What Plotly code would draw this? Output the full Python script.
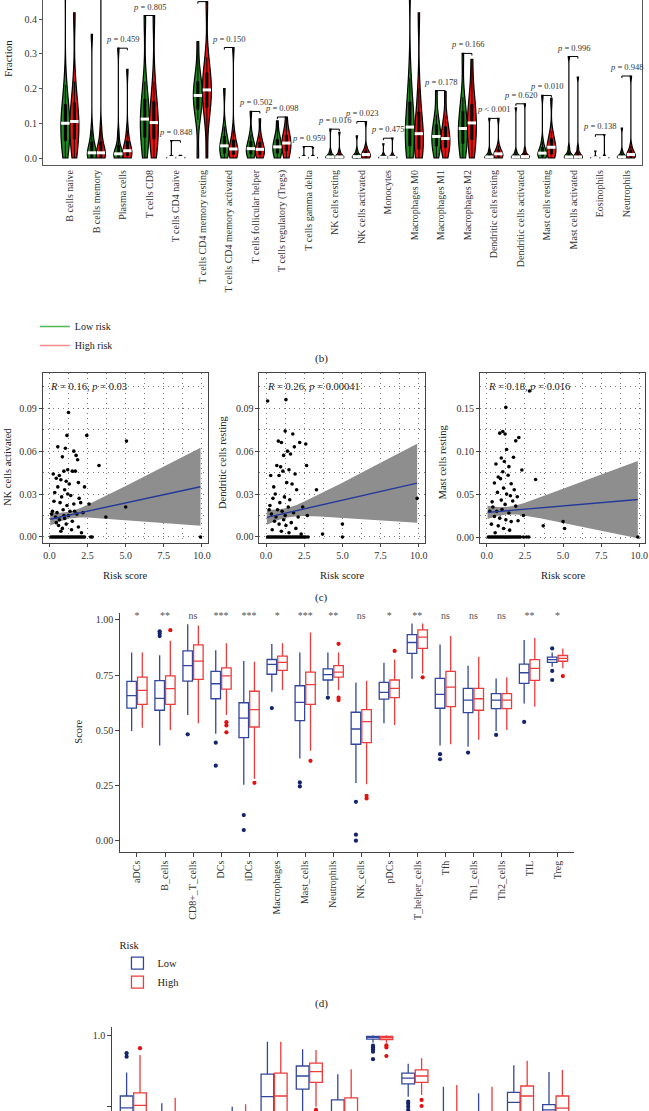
import numpy as np
import plotly.graph_objects as go

# page size in px, layout is done in pixels and converted to paper coords
W, H = 649, 1111
FONT = "Liberation Serif, Times New Roman, serif"

# ---------------- (b) violin data : CIBERSORT fractions ----------------
cell_types = ["B cells naive", "B cells memory", "Plasma cells", "T cells CD8", "T cells CD4 naive",
              "T cells CD4 memory resting", "T cells CD4 memory activated", "T cells follicular helper",
              "T cells regulatory (Tregs)", "T cells gamma delta", "NK cells resting", "NK cells activated",
              "Monocytes", "Macrophages M0", "Macrophages M1", "Macrophages M2", "Dendritic cells resting",
              "Dendritic cells activated", "Mast cells resting", "Mast cells activated", "Eosinophils",
              "Neutrophils"]

# estimated distribution (min, deciles, max) for each violin
low_frac = [
    [0.0, 0.025, 0.045, 0.065, 0.085, 0.10, 0.115, 0.135, 0.16, 0.21, 0.55],
    [0.0, 0.0, 0.0, 0.005, 0.01, 0.015, 0.025, 0.035, 0.05, 0.08, 0.356],
    [0.0, 0.0, 0.002, 0.005, 0.008, 0.012, 0.018, 0.026, 0.04, 0.07, 0.316],
    [0.0, 0.03, 0.055, 0.075, 0.095, 0.112, 0.13, 0.15, 0.175, 0.22, 0.41],
    [0.0, 0.0, 0.0, 0.0005, 0.001, 0.0015, 0.002, 0.003, 0.004, 0.006, 0.05],
    [0.0, 0.11, 0.135, 0.155, 0.168, 0.18, 0.192, 0.205, 0.225, 0.255, 0.335],
    [0.0, 0.005, 0.012, 0.02, 0.028, 0.035, 0.043, 0.052, 0.065, 0.09, 0.2],
    [0.0, 0.004, 0.01, 0.016, 0.022, 0.027, 0.033, 0.04, 0.05, 0.068, 0.134],
    [0.0, 0.005, 0.012, 0.02, 0.027, 0.032, 0.038, 0.046, 0.056, 0.07, 0.107],
    [0.0, 0.0, 0.0, 0.0005, 0.001, 0.0015, 0.002, 0.003, 0.004, 0.006, 0.033],
    [0.0, 0.0, 0.0, 0.001, 0.002, 0.003, 0.005, 0.008, 0.012, 0.02, 0.083],
    [0.0, 0.0, 0.0, 0.001, 0.002, 0.004, 0.006, 0.009, 0.013, 0.022, 0.064],
    [0.0, 0.0, 0.0, 0.0005, 0.001, 0.002, 0.003, 0.005, 0.007, 0.012, 0.041],
    [0.0, 0.01, 0.03, 0.05, 0.07, 0.089, 0.11, 0.135, 0.17, 0.23, 0.52],
    [0.0, 0.018, 0.032, 0.043, 0.053, 0.062, 0.072, 0.084, 0.1, 0.125, 0.194],
    [0.0, 0.02, 0.038, 0.055, 0.07, 0.085, 0.1, 0.118, 0.14, 0.175, 0.301],
    [0.0, 0.0, 0.0, 0.001, 0.002, 0.003, 0.005, 0.008, 0.013, 0.022, 0.114],
    [0.0, 0.0, 0.0, 0.001, 0.002, 0.003, 0.005, 0.008, 0.012, 0.02, 0.144],
    [0.0, 0.001, 0.004, 0.008, 0.011, 0.014, 0.018, 0.024, 0.032, 0.048, 0.18],
    [0.0, 0.0, 0.0, 0.001, 0.002, 0.003, 0.006, 0.01, 0.016, 0.03, 0.292],
    [0.0, 0.0, 0.0, 0.0002, 0.0005, 0.001, 0.0015, 0.002, 0.003, 0.005, 0.02],
    [0.0, 0.0, 0.0, 0.001, 0.002, 0.003, 0.005, 0.008, 0.012, 0.02, 0.086],
]
high_frac = [
    [0.0, 0.03, 0.05, 0.07, 0.09, 0.105, 0.12, 0.14, 0.165, 0.22, 0.418],
    [0.0, 0.0, 0.0, 0.005, 0.01, 0.015, 0.025, 0.035, 0.05, 0.085, 0.6],
    [0.0, 0.002, 0.006, 0.011, 0.016, 0.021, 0.028, 0.038, 0.052, 0.08, 0.255],
    [0.0, 0.025, 0.05, 0.07, 0.088, 0.102, 0.12, 0.14, 0.17, 0.22, 0.41],
    [0.0, 0.0, 0.0, 0.0005, 0.001, 0.0015, 0.002, 0.003, 0.004, 0.005, 0.008],
    [0.0, 0.11, 0.14, 0.165, 0.18, 0.196, 0.21, 0.23, 0.25, 0.29, 0.45],
    [0.0, 0.004, 0.009, 0.015, 0.02, 0.026, 0.033, 0.042, 0.055, 0.08, 0.318],
    [0.0, 0.004, 0.009, 0.015, 0.02, 0.025, 0.031, 0.038, 0.048, 0.065, 0.113],
    [0.0, 0.008, 0.018, 0.028, 0.036, 0.043, 0.05, 0.058, 0.068, 0.082, 0.118],
    [0.0, 0.0, 0.0, 0.0005, 0.001, 0.0015, 0.002, 0.003, 0.004, 0.006, 0.03],
    [0.0, 0.0, 0.0, 0.001, 0.002, 0.003, 0.005, 0.008, 0.012, 0.02, 0.074],
    [0.0, 0.001, 0.003, 0.005, 0.008, 0.01, 0.013, 0.017, 0.022, 0.032, 0.105],
    [0.0, 0.0, 0.0, 0.0005, 0.001, 0.002, 0.003, 0.005, 0.007, 0.012, 0.057],
    [0.0, 0.008, 0.022, 0.038, 0.055, 0.07, 0.088, 0.11, 0.14, 0.2, 0.418],
    [0.0, 0.015, 0.028, 0.038, 0.047, 0.056, 0.066, 0.078, 0.094, 0.12, 0.191],
    [0.0, 0.025, 0.048, 0.068, 0.085, 0.101, 0.118, 0.137, 0.16, 0.195, 0.284],
    [0.0, 0.001, 0.003, 0.006, 0.009, 0.012, 0.015, 0.019, 0.025, 0.036, 0.114],
    [0.0, 0.0, 0.001, 0.002, 0.003, 0.004, 0.006, 0.009, 0.014, 0.024, 0.156],
    [0.0, 0.004, 0.01, 0.017, 0.024, 0.031, 0.038, 0.047, 0.058, 0.076, 0.172],
    [0.0, 0.0, 0.0, 0.001, 0.002, 0.003, 0.006, 0.01, 0.016, 0.03, 0.233],
    [0.0, 0.0, 0.0, 0.0005, 0.001, 0.0015, 0.002, 0.003, 0.004, 0.008, 0.067],
    [0.0, 0.001, 0.002, 0.004, 0.007, 0.01, 0.013, 0.017, 0.023, 0.035, 0.236],
]
p_values = ["", "", "0.459", "0.805", "0.848", "", "0.150", "0.502", "0.098", "0.959", "0.016",
            "0.023", "0.475", "", "0.178", "0.166", "< 0.001", "0.620", "0.010", "0.996", "0.138", "0.948"]

# ---------------- (c) correlation scatter data ----------------
nk_x = [1.25, 1.15, 2.45, 5.05, 0.55, 1.05, 1.6, 1.75, 0.85, 1.85, 3.25, 0.25, 0.65, 1.2, 0.95, 1.5, 1.7,
        0.75, 0.45, 1.1, 1.3, 2.3, 1.9, 0.55, 1.0, 1.2, 0.35, 0.8, 1.4, 1.95, 2.05, 0.3, 0.7, 1.15, 1.6,
        2.6, 0.2, 0.5, 0.9, 1.35, 1.8, 2.2, 0.4, 0.65, 1.0, 1.25, 1.5, 0.15, 3.7, 5.0, 0.6, 0.85, 1.1,
        1.45, 1.9, 2.1, 0.75, 0.45, 1.65, 0.95,
        0.1, 0.2, 0.3, 0.4, 0.5, 0.6, 0.7, 0.8, 0.9, 1.0, 1.1, 1.2, 1.3, 1.4, 1.5, 1.6, 1.7, 1.8, 1.9,
        2.0, 2.1, 2.2, 2.3, 2.7, 2.8, 9.9]
nk_y = [0.087, 0.071, 0.071, 0.067, 0.063, 0.062, 0.060, 0.057, 0.056, 0.054, 0.050, 0.044, 0.043, 0.047,
        0.046, 0.046, 0.046, 0.040, 0.041, 0.039, 0.037, 0.035, 0.038, 0.035, 0.033, 0.030, 0.031, 0.028,
        0.029, 0.027, 0.024, 0.025, 0.024, 0.022, 0.023, 0.023, 0.018, 0.017, 0.019, 0.018, 0.016, 0.017,
        0.014, 0.012, 0.013, 0.015, 0.011, 0.016, 0.014, 0.021, 0.008, 0.006, 0.009, 0.005, 0.007, 0.003,
        0.004, 0.010, 0.018, 0.015,
        0.0, 0.0, 0.0, 0.0, 0.0, 0.0, 0.0, 0.0, 0.0, 0.0, 0.0, 0.0, 0.0, 0.0, 0.0, 0.0, 0.0, 0.0, 0.0,
        0.0, 0.0, 0.0, 0.0, 0.0, 0.0, 0.0]

dc_x = [0.1, 1.3, 1.25, 1.75, 0.8, 1.0, 2.2, 2.6, 1.85, 1.4, 1.6, 1.15, 0.7, 0.95, 2.65, 1.5, 1.1, 0.3,
        0.85, 1.9, 1.7, 1.35, 0.5, 2.0, 3.3, 0.6, 1.2, 0.45, 2.4, 0.25, 1.55, 0.9, 1.45, 0.75, 1.05, 1.8,
        0.35, 0.65, 1.25, 2.1, 0.55, 0.85, 1.3, 1.65, 1.95, 0.4, 1.0, 1.5, 2.3, 3.7, 5.0, 9.9, 0.2, 1.15,
        2.7,
        0.1, 0.2, 0.3, 0.4, 0.5, 0.6, 0.7, 0.8, 0.9, 1.0, 1.1, 1.2, 1.3, 1.4, 1.5, 1.6, 1.7, 1.8, 1.9,
        2.0, 2.1, 2.2, 2.3, 2.4, 2.5, 2.6, 2.75, 5.0]
dc_y = [0.095, 0.096, 0.074, 0.072, 0.067, 0.066, 0.066, 0.065, 0.063, 0.060, 0.058, 0.057, 0.050, 0.049,
        0.050, 0.047, 0.046, 0.043, 0.043, 0.044, 0.037, 0.038, 0.035, 0.033, 0.033, 0.030, 0.028, 0.027,
        0.021, 0.022, 0.026, 0.024, 0.021, 0.019, 0.018, 0.017, 0.016, 0.014, 0.015, 0.014, 0.011, 0.009,
        0.008, 0.010, 0.006, 0.005, 0.004, 0.003, 0.002, 0.002, 0.009, 0.027, 0.019, 0.012, 0.015,
        0.0, 0.0, 0.0, 0.0, 0.0, 0.0, 0.0, 0.0, 0.0, 0.0, 0.0, 0.0, 0.0, 0.0, 0.0, 0.0, 0.0, 0.0, 0.0,
        0.0, 0.0, 0.0, 0.0, 0.0, 0.0, 0.0, 0.0, 0.0]

mast_x = [2.8, 1.25, 0.85, 1.05, 1.2, 2.1, 1.9, 1.3, 1.75, 0.95, 1.15, 0.6, 1.45, 2.3, 1.05, 0.75, 0.9,
          1.4, 3.2, 0.5, 1.6, 1.1, 1.8, 0.7, 1.3, 1.55, 2.0, 0.35, 0.95, 1.7, 0.4, 1.2, 1.9, 0.2, 0.65,
          1.0, 1.45, 2.4, 0.5, 0.85, 1.25, 1.6, 2.05, 0.3, 0.75, 1.1, 1.5, 0.55, 3.7, 5.0, 5.1,
          0.1, 0.2, 0.3, 0.4, 0.5, 0.6, 0.7, 0.8, 0.9, 1.0, 1.1, 1.2, 1.3, 1.4, 1.5, 1.6, 1.7, 1.8, 1.9,
          2.0, 2.1, 2.2, 2.4, 2.6, 2.75, 9.9]
mast_y = [0.170, 0.151, 0.121, 0.123, 0.120, 0.116, 0.112, 0.102, 0.093, 0.092, 0.088, 0.085, 0.082,
          0.078, 0.076, 0.070, 0.068, 0.072, 0.067, 0.063, 0.062, 0.057, 0.055, 0.052, 0.050, 0.048,
          0.047, 0.041, 0.043, 0.042, 0.035, 0.038, 0.036, 0.030, 0.030, 0.032, 0.028, 0.025, 0.024,
          0.022, 0.020, 0.018, 0.019, 0.015, 0.013, 0.010, 0.008, 0.005, 0.013, 0.018, 0.010,
          0.0, 0.0, 0.0, 0.0, 0.0, 0.0, 0.0, 0.0, 0.0, 0.0, 0.0, 0.0, 0.0, 0.0, 0.0, 0.0, 0.0, 0.0, 0.0,
          0.0, 0.0, 0.0, 0.0, 0.0, 0.0, 0.0]

# linear fit and 95% band read at a few risk scores
band_x = [0.05, 0.7, 1.3, 2.0, 2.5, 3.5, 5.0, 7.5, 9.9]
nk_fit = [0.0124, 0.0139, 0.0153, 0.0169, 0.0181, 0.0204, 0.0238, 0.0296, 0.0351]
nk_lo = [0.0080, 0.0109, 0.0130, 0.0137, 0.0137, 0.0131, 0.0119, 0.0099, 0.0079]
nk_hi = [0.0172, 0.0169, 0.0176, 0.0201, 0.0225, 0.0277, 0.0357, 0.0493, 0.0623]
dc_fit = [0.0137, 0.0153, 0.0167, 0.0184, 0.0197, 0.0221, 0.0257, 0.0318, 0.0376]
dc_lo = [0.0085, 0.0115, 0.0134, 0.0144, 0.0146, 0.0143, 0.0135, 0.0118, 0.0100]
dc_hi = [0.0189, 0.0192, 0.0201, 0.0224, 0.0248, 0.0299, 0.0379, 0.0518, 0.0652]
mast_fit = [0.0287, 0.0297, 0.0306, 0.0317, 0.0324, 0.0340, 0.0363, 0.0401, 0.0437]
mast_lo = [0.0209, 0.0244, 0.0263, 0.0261, 0.0248, 0.0218, 0.0165, 0.0075, -0.0013]
mast_hi = [0.0365, 0.0350, 0.0349, 0.0373, 0.0400, 0.0462, 0.0561, 0.0727, 0.0887]
cor_text = ["<i>R</i> = 0.16, <i>p</i> = 0.03", "<i>R</i> = 0.26, <i>p</i> = 0.00041",
            "<i>R</i> = 0.18, <i>p</i> = 0.016"]

# ---------------- (d) ssGSEA immune cell boxplots ----------------
imm_cells = ["aDCs", "B_cells", "CD8+_T_cells", "DCs", "iDCs", "Macrophages", "Mast_cells", "Neutrophils",
             "NK_cells", "pDCs", "T_helper_cells", "Tfh", "Th1_cells", "Th2_cells", "TIL", "Treg"]
imm_sig = ["*", "**", "ns", "***", "***", "*", "***", "**", "ns", "*", "**", "ns", "ns", "ns", "**", "*"]
imm_low_lf = [0.497, 0.431, 0.570, 0.485, 0.253, 0.675, 0.372, 0.660, 0.261, 0.532, 0.734, 0.431, 0.426, 0.497, 0.621, 0.788]
imm_low_q1 = [0.601, 0.591, 0.723, 0.643, 0.467, 0.754, 0.544, 0.728, 0.437, 0.641, 0.849, 0.600, 0.580, 0.598, 0.713, 0.808]
imm_low_md = [0.657, 0.645, 0.793, 0.711, 0.555, 0.799, 0.627, 0.752, 0.506, 0.672, 0.898, 0.663, 0.637, 0.637, 0.761, 0.820]
imm_low_q3 = [0.722, 0.725, 0.860, 0.767, 0.625, 0.821, 0.702, 0.778, 0.582, 0.717, 0.934, 0.735, 0.690, 0.666, 0.800, 0.832]
imm_low_uf = [0.853, 0.840, 0.981, 0.863, 0.814, 0.891, 0.853, 0.853, 0.717, 0.806, 0.984, 0.889, 0.793, 0.735, 0.909, 0.853]
imm_high_lf = [0.512, 0.502, 0.532, 0.570, 0.280, 0.683, 0.408, 0.683, 0.256, 0.524, 0.758, 0.437, 0.457, 0.502, 0.607, 0.781]
imm_high_q1 = [0.618, 0.618, 0.731, 0.687, 0.515, 0.772, 0.618, 0.741, 0.444, 0.648, 0.871, 0.607, 0.591, 0.598, 0.726, 0.813]
imm_high_md = [0.681, 0.689, 0.814, 0.747, 0.594, 0.808, 0.707, 0.764, 0.539, 0.690, 0.922, 0.696, 0.643, 0.637, 0.781, 0.826]
imm_high_q3 = [0.741, 0.747, 0.887, 0.783, 0.677, 0.836, 0.764, 0.793, 0.594, 0.728, 0.955, 0.767, 0.690, 0.666, 0.820, 0.839]
imm_high_uf = [0.853, 0.906, 0.975, 0.894, 0.811, 0.894, 0.943, 0.853, 0.725, 0.821, 0.984, 0.927, 0.833, 0.741, 0.918, 0.871]
imm_low_out_idx = [1, 1, 1, 2, 3, 3, 4, 4, 5, 6, 6, 7, 8, 8, 8, 11, 11, 12, 13, 14, 15, 15, 15]
imm_low_out_val = [0.949, 0.939, 0.927, 0.482, 0.444, 0.340, 0.116, 0.048, 0.601, 0.264, 0.246, 0.648,
                   0.176, 0.027, 0.0, 0.392, 0.369, 0.399, 0.479, 0.538, 0.871, 0.769, 0.728]
imm_high_out_idx = [1, 3, 3, 3, 4, 6, 7, 7, 7, 8, 8, 9, 10, 15]
imm_high_out_val = [0.954, 0.537, 0.522, 0.491, 0.262, 0.362, 0.892, 0.648, 0.637, 0.203, 0.191, 0.860, 0.740, 0.746]

# ---------------- (e) immune function boxplots (top part only) ----------------
func_names = ["APC_co_inhibition", "APC_co_stimulation", "CCR", "Check-point", "Cytolytic_activity", "HLA",
              "Inflammation-promoting", "MHC_class_I", "Parainflammation", "T_cell_co-inhibition",
              "T_cell_co-stimulation", "Type_I_IFN_Reponse", "Type_II_IFN_Reponse"]
func_sig = ["ns", "*", "***", "ns", "ns", "**", "ns", "ns", "**", "ns", "*", "**", "***"]
func_low_uf = [0.896, 0.810, 0.760, 0.800, 0.982, 0.961, 0.891, 1.000, 0.920, 0.856, 0.838, 0.916, 0.897]
func_low_q3 = [0.830, 0.700, 0.640, 0.690, 0.891, 0.914, 0.819, 0.997, 0.894, 0.720, 0.700, 0.840, 0.806]
func_low_md = [0.797, 0.640, 0.570, 0.620, 0.828, 0.886, 0.760, 0.994, 0.880, 0.650, 0.630, 0.812, 0.791]
func_low_q1 = [0.740, 0.580, 0.500, 0.550, 0.750, 0.849, 0.700, 0.989, 0.864, 0.580, 0.560, 0.760, 0.740]
func_low_lf = [0.600, 0.440, 0.330, 0.380, 0.550, 0.760, 0.540, 0.980, 0.828, 0.420, 0.400, 0.620, 0.600]
func_high_uf = [0.945, 0.825, 0.770, 0.807, 0.982, 0.959, 0.905, 1.000, 0.936, 0.861, 0.856, 0.929, 0.903]
func_high_q3 = [0.839, 0.720, 0.660, 0.700, 0.894, 0.922, 0.825, 0.997, 0.903, 0.730, 0.720, 0.858, 0.830]
func_high_md = [0.804, 0.660, 0.590, 0.630, 0.830, 0.898, 0.770, 0.993, 0.886, 0.660, 0.650, 0.830, 0.796]
func_high_q1 = [0.750, 0.600, 0.520, 0.560, 0.760, 0.868, 0.710, 0.988, 0.868, 0.590, 0.580, 0.780, 0.760]
func_high_lf = [0.610, 0.460, 0.350, 0.390, 0.560, 0.800, 0.550, 0.979, 0.833, 0.430, 0.420, 0.640, 0.620]
func_low_out_idx = [0, 0, 7, 7, 7, 7, 7, 8, 8, 8, 8]
func_low_out_val = [0.950, 0.940, 0.971, 0.966, 0.961, 0.954, 0.933, 0.814, 0.808, 0.800, 0.791]
func_high_out_idx = [0, 5, 7, 7, 7, 8, 8]
func_high_out_val = [0.964, 0.791, 0.972, 0.966, 0.942, 0.819, 0.802]

GREEN, RED = "#1f8b1f", "#ee1111"
BLUE_BOX, RED_BOX = "#33479a", "#ee3b3b"
BLUE_PT, RED_PT = "#14246a", "#e41010"


def dx(a, b):
    return [a / W, b / W]


def dy(top, bottom):
    return [1 - bottom / H, 1 - top / H]


fig = go.Figure()

# ---- violins
off = 0.17
for i in range(len(cell_types)):
    for vals, col, sh in [(low_frac[i], GREEN, -off), (high_frac[i], RED, off)]:
        fig.add_trace(go.Violin(
            x0=i + sh, y=vals, width=0.34, scalemode="width", spanmode="hard", points=False,
            fillcolor=col, line=dict(color="black", width=1.2), opacity=1,
            box=dict(visible=True, width=0.22, fillcolor="black", line=dict(color="black", width=1)),
            meanline=dict(visible=False), showlegend=False, hoverinfo="skip", xaxis="x", yaxis="y"))

idx = np.arange(len(cell_types))
fig.add_trace(go.Scatter(x=idx - off, y=[np.median(v) for v in low_frac], mode="markers",
                         marker=dict(symbol="line-ew", size=6, line=dict(color="white", width=3)),
                         showlegend=False, hoverinfo="skip", xaxis="x", yaxis="y"))
fig.add_trace(go.Scatter(x=idx + off, y=[np.median(v) for v in high_frac], mode="markers",
                         marker=dict(symbol="line-ew", size=6, line=dict(color="white", width=3)),
                         showlegend=False, hoverinfo="skip", xaxis="x", yaxis="y"))

# brackets above each pair + p labels
bx, by = [], []
tops = [max(max(a), max(b)) for a, b in zip(low_frac, high_frac)]
for i, t in enumerate(tops):
    bx += [i - off, i - off, i + off, i + off, None]
    by += [t - 0.006, t, t, t - 0.006, None]
fig.add_trace(go.Scatter(x=bx, y=by, mode="lines", line=dict(color="black", width=1),
                         showlegend=False, hoverinfo="skip", xaxis="x", yaxis="y"))

annotations = []
for i, pv in enumerate(p_values):
    if pv:
        label = "<i>p</i> &lt; 0.001" if pv.startswith("<") else "<i>p</i> = " + pv
        annotations.append(dict(x=i, y=tops[i], xref="x", yref="y", yshift=9, showarrow=False, text=label,
                                xanchor="center", yanchor="middle",
                                font=dict(size=8.5, color="#333", family=FONT)))

# legend entries for violins
fig.add_trace(go.Scatter(x=[None], y=[None], mode="lines", name="Low risk",
                         line=dict(color="#4fb84f", width=1.5), legend="legend"))
fig.add_trace(go.Scatter(x=[None], y=[None], mode="lines", name="High risk",
                         line=dict(color="#f28a8a", width=1.5), legend="legend"))

# ---- scatter panels
panels = [(nk_x, nk_y, nk_fit, nk_lo, nk_hi), (dc_x, dc_y, dc_fit, dc_lo, dc_hi),
          (mast_x, mast_y, mast_fit, mast_lo, mast_hi)]
for k, (px_, py_, fit, lo, hi) in enumerate(panels):
    xa, ya = "x%d" % (k + 2), "y%d" % (k + 2)
    fig.add_trace(go.Scatter(x=band_x + band_x[::-1], y=hi + lo[::-1], fill="toself",
                             fillcolor="#8e8e8e", line=dict(width=0), mode="lines",
                             showlegend=False, hoverinfo="skip", xaxis=xa, yaxis=ya))
    fig.add_trace(go.Scatter(x=px_, y=py_, mode="markers", marker=dict(color="black", size=3.6),
                             showlegend=False, hoverinfo="skip", xaxis=xa, yaxis=ya))
    fig.add_trace(go.Scatter(x=band_x, y=fit, mode="lines", line=dict(color="#23399a", width=1.4),
                             showlegend=False, hoverinfo="skip", xaxis=xa, yaxis=ya))
    annotations.append(dict(x=0.035, y=0.925, xref=xa + " domain", yref=ya + " domain", xanchor="left",
                            yanchor="middle", showarrow=False, text=cor_text[k],
                            font=dict(size=10.5, color="#222", family=FONT)))


# ---- box panels
def box_pair(names, lf, q1, md, q3, uf, lf2, q12, md2, q32, uf2, oi, ov, oi2, ov2, xa, ya, w, legend_on):
    pos = np.arange(len(names))
    out = []
    for lab, col, ptc, sh, s in [("Low", BLUE_BOX, BLUE_PT, -0.19, (lf, q1, md, q3, uf, oi, ov)),
                                 ("High", RED_BOX, RED_PT, 0.19, (lf2, q12, md2, q32, uf2, oi2, ov2))]:
        out.append(go.Box(x=list(pos + sh), lowerfence=s[0], q1=s[1], median=s[2], q3=s[3], upperfence=s[4],
                          width=w, whiskerwidth=0, fillcolor="white", line=dict(color=col, width=1.3),
                          name=lab, showlegend=legend_on, legend="legend2", hoverinfo="skip",
                          xaxis=xa, yaxis=ya))
        out.append(go.Scatter(x=[p + sh for p in s[5]], y=s[6], mode="markers",
                              marker=dict(color=ptc, size=4.2), showlegend=False, hoverinfo="skip",
                              xaxis=xa, yaxis=ya))
    return out


for t in box_pair(imm_cells, imm_low_lf, imm_low_q1, imm_low_md, imm_low_q3, imm_low_uf,
                  imm_high_lf, imm_high_q1, imm_high_md, imm_high_q3, imm_high_uf,
                  imm_low_out_idx, imm_low_out_val, imm_high_out_idx, imm_high_out_val, "x5", "y5", 0.34, True):
    fig.add_trace(t)
fig.add_trace(go.Scatter(x=list(range(len(imm_cells))), y=[1.016] * len(imm_cells), mode="text",
                         text=imm_sig, textfont=dict(size=10, color="#555", family=FONT),
                         showlegend=False, hoverinfo="skip", xaxis="x5", yaxis="y5", cliponaxis=False))

for t in box_pair(func_names, func_low_lf, func_low_q1, func_low_md, func_low_q3, func_low_uf,
                  func_high_lf, func_high_q1, func_high_md, func_high_q3, func_high_uf,
                  func_low_out_idx, func_low_out_val, func_high_out_idx, func_high_out_val, "x6", "y6", 0.36, False):
    fig.add_trace(t)
fig.add_trace(go.Scatter(x=list(range(len(func_names))), y=[1.029] * len(func_names), mode="text",
                         text=func_sig, textfont=dict(size=10, color="#555", family=FONT),
                         showlegend=False, hoverinfo="skip", xaxis="x6", yaxis="y6", cliponaxis=False))

# ---- axes
tickfont = dict(size=10, color="#333", family=FONT)
lay = dict(
    xaxis=dict(domain=dx(43.3, 645), range=[-1.01, 21.59], tickvals=list(range(len(cell_types))),
               ticktext=cell_types, tickangle=-90, showline=True, linecolor="#555", linewidth=1,
               ticks="", showgrid=False, zeroline=False, tickfont=tickfont),
    yaxis=dict(domain=dy(0, 165), range=[-0.0201, 0.4547], tickvals=[0, 0.1, 0.2, 0.3, 0.4], tickformat=".1f",
               showline=True, mirror=True, linecolor="#555", linewidth=1, ticks="outside", ticklen=3,
               tickcolor="#555", showgrid=False, zeroline=False, tickfont=tickfont),
)
sc_x = [(42.9, 208.9), (260.6, 426.6), (482.3, 648.3)]
sc_yr = [[-0.004, 0.1144], [-0.004, 0.1144], [-0.0066, 0.1907]]
sc_dt = [0.03, 0.03, 0.05]
for k in range(3):
    n = k + 2
    grid = dict(showgrid=True, gridcolor="#777", griddash="1px,4px", gridwidth=1)
    lay["xaxis%d" % n] = dict(domain=dx(*sc_x[k]), range=[-0.44, 10.39], dtick=2.5, tick0=0, tickformat=".1f",
                              showline=True, mirror=True, linecolor="#444", linewidth=1, ticks="outside",
                              ticklen=3, tickcolor="#444", zeroline=False, tickfont=tickfont, anchor="y%d" % n,
                              minor=dict(dtick=1.25, **grid), **grid)
    lay["yaxis%d" % n] = dict(domain=dy(373.3, 542.7), range=sc_yr[k], dtick=sc_dt[k], tick0=0, tickformat=".2f",
                              showline=True, mirror=True, linecolor="#444", linewidth=1, ticks="outside",
                              ticklen=3, tickcolor="#444", zeroline=False, tickfont=tickfont, anchor="x%d" % n,
                              minor=dict(dtick=sc_dt[k] / 2, **grid), **grid)
lay["xaxis5"] = dict(domain=dx(120.7, 577), range=[-0.6, 15.6], tickvals=list(range(len(imm_cells))),
                     ticktext=imm_cells, tickangle=-90, showline=True, linecolor="#444", linewidth=1,
                     ticks="outside", ticklen=4, tickcolor="#444", showgrid=False, zeroline=False,
                     tickfont=tickfont, anchor="y5")
lay["yaxis5"] = dict(domain=dy(612.7, 851.7), range=[-0.05, 1.033], tickvals=[0, 0.25, 0.5, 0.75, 1.0],
                     tickformat=".2f", showline=True, linecolor="#444", linewidth=1, ticks="outside", ticklen=4,
                     tickcolor="#444", showgrid=False, zeroline=False, tickfont=tickfont, anchor="x5")
lay["xaxis6"] = dict(domain=dx(112.7, 579.5), range=[-0.6, 12.6], showline=False, showticklabels=False,
                     showgrid=False, zeroline=False, anchor="y6")
lay["yaxis6"] = dict(domain=dy(1026.7, 1111), range=[0.788, 1.024], tickvals=[0.8, 1.0], tickformat=".1f",
                     showline=True, linecolor="#444", linewidth=1, ticks="outside", ticklen=4, tickcolor="#444",
                     showgrid=False, zeroline=False, tickfont=tickfont, anchor="x6")


def txt(x, y, s, size=10.5, angle=0):
    return dict(x=x / W, y=1 - y / H, xref="paper", yref="paper", text=s, showarrow=False, textangle=angle,
                xanchor="center", yanchor="middle", font=dict(size=size, color="#222", family=FONT))


annotations += [
    txt(8, 58, "Fraction", 11, -90),
    txt(8, 467, "NK cells activated", 10.5, -90),
    txt(224, 462, "Dendritic cells resting", 10.5, -90),
    txt(445.5, 462, "Mast cells resting", 10.5, -90),
    txt(126, 575, "Risk score"), txt(343.6, 575, "Risk score"), txt(565.3, 575, "Risk score"),
    txt(78, 732, "Score", 10.5, -90),
    txt(323, 359, "(b)", 11), txt(323, 597.7, "(c)", 11), txt(323, 1003.3, "(d)", 11),
]

fig.update_layout(
    width=W, height=H, margin=dict(l=0, r=0, t=0, b=0), plot_bgcolor="white", paper_bgcolor="white",
    font=dict(family=FONT, color="#222"), annotations=annotations, hovermode=False,
    legend=dict(x=35 / W, y=1 - 312 / H, xanchor="left", yanchor="top", bgcolor="rgba(0,0,0,0)",
                font=dict(size=10, family=FONT, color="#222"), tracegroupgap=0, itemwidth=30),
    legend2=dict(x=118 / W, y=1 - 935 / H, xanchor="left", yanchor="top", bgcolor="rgba(0,0,0,0)",
                 title=dict(text="Risk", font=dict(size=10.5, family=FONT, color="#222")),
                 font=dict(size=10.5, family=FONT, color="#222"), itemwidth=30),
    **lay,
)

# the page body has a default 8px margin: drop it so the figure fills the window exactly
fig.write_html("out.html", config={"displayModeBar": False},
               post_script="document.body.style.margin='0';document.body.style.overflow='hidden';")
